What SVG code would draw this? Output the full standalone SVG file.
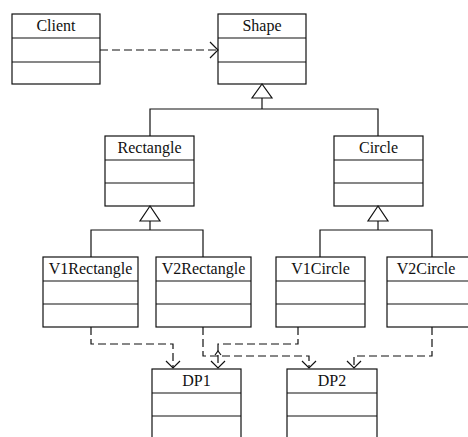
<svg xmlns="http://www.w3.org/2000/svg" width="468" height="437" viewBox="0 0 468 437">
  <style>
    .box { fill: #fff; stroke: #111; stroke-width: 1.2; }
    .sep { stroke: #111; stroke-width: 1.2; }
    .lbl { font-family: "Liberation Serif", "Times New Roman", serif; font-size: 16px; fill: #111; text-anchor: middle; }
    .inh { fill: none; stroke: #111; stroke-width: 1.2; }
    .tri { fill: #fff; stroke: #111; stroke-width: 1.2; stroke-linejoin: miter; }
    .dep { fill: none; stroke: #111; stroke-width: 1.2; stroke-dasharray: 8 4; }
    .head { fill: none; stroke: #111; stroke-width: 1.2; }
  </style>
  <rect width="468" height="437" fill="#fff"/>

  <!-- class boxes: name compartment, attributes, operations -->
  <g id="client">
    <rect class="box" x="12" y="14" width="88" height="70"/>
    <line class="sep" x1="12" y1="38" x2="100" y2="38"/>
    <line class="sep" x1="12" y1="62" x2="100" y2="62"/>
    <text class="lbl" x="56" y="31">Client</text>
  </g>
  <g id="shape">
    <rect class="box" x="218" y="14" width="88" height="70"/>
    <line class="sep" x1="218" y1="38" x2="306" y2="38"/>
    <line class="sep" x1="218" y1="62" x2="306" y2="62"/>
    <text class="lbl" x="262" y="31">Shape</text>
  </g>
  <g id="rectangle">
    <rect class="box" x="105" y="136" width="89" height="70"/>
    <line class="sep" x1="105" y1="160" x2="194" y2="160"/>
    <line class="sep" x1="105" y1="183" x2="194" y2="183"/>
    <text class="lbl" x="149.5" y="153">Rectangle</text>
  </g>
  <g id="circle">
    <rect class="box" x="334" y="136" width="89" height="70"/>
    <line class="sep" x1="334" y1="160" x2="423" y2="160"/>
    <line class="sep" x1="334" y1="183" x2="423" y2="183"/>
    <text class="lbl" x="378.5" y="153">Circle</text>
  </g>
  <g id="v1rectangle">
    <rect class="box" x="43" y="257" width="95" height="70"/>
    <line class="sep" x1="43" y1="281" x2="138" y2="281"/>
    <line class="sep" x1="43" y1="304" x2="138" y2="304"/>
    <text class="lbl" x="90.5" y="274">V1Rectangle</text>
  </g>
  <g id="v2rectangle">
    <rect class="box" x="156" y="257" width="95" height="70"/>
    <line class="sep" x1="156" y1="281" x2="251" y2="281"/>
    <line class="sep" x1="156" y1="304" x2="251" y2="304"/>
    <text class="lbl" x="203.5" y="274">V2Rectangle</text>
  </g>
  <g id="v1circle">
    <rect class="box" x="276" y="257" width="89" height="70"/>
    <line class="sep" x1="276" y1="281" x2="365" y2="281"/>
    <line class="sep" x1="276" y1="304" x2="365" y2="304"/>
    <text class="lbl" x="320.5" y="274">V1Circle</text>
  </g>
  <g id="v2circle">
    <rect class="box" x="387" y="257" width="90" height="70"/>
    <line class="sep" x1="387" y1="281" x2="477" y2="281"/>
    <line class="sep" x1="387" y1="304" x2="477" y2="304"/>
    <text class="lbl" x="426" y="274">V2Circle</text>
  </g>
  <g id="dp1">
    <rect class="box" x="152" y="369" width="89" height="80"/>
    <line class="sep" x1="152" y1="393" x2="241" y2="393"/>
    <line class="sep" x1="152" y1="416" x2="241" y2="416"/>
    <text class="lbl" x="196.5" y="386">DP1</text>
  </g>
  <g id="dp2">
    <rect class="box" x="287" y="369" width="90" height="80"/>
    <line class="sep" x1="287" y1="393" x2="377" y2="393"/>
    <line class="sep" x1="287" y1="416" x2="377" y2="416"/>
    <text class="lbl" x="332" y="386">DP2</text>
  </g>

  <g id="connectors">
    <!-- Client uses Shape -->
    <line class="dep" x1="100" y1="50" x2="217" y2="50"/>
    <polyline class="head" points="210,42 218,50 210,58"/>

    <!-- Rectangle, Circle extend Shape -->
    <polyline class="inh" points="150,136 150,109 378,109 378,136"/>
    <line class="inh" x1="262" y1="98" x2="262" y2="109"/>
    <polygon class="tri" points="262,84 252,98 272,98"/>

    <!-- V1Rectangle, V2Rectangle extend Rectangle -->
    <polyline class="inh" points="91,257 91,230 203,230 203,257"/>
    <line class="inh" x1="150" y1="221" x2="150" y2="230"/>
    <polygon class="tri" points="150,206 140,221 160,221"/>

    <!-- V1Circle, V2Circle extend Circle -->
    <polyline class="inh" points="320,257 320,230 432,230 432,257"/>
    <line class="inh" x1="378" y1="221" x2="378" y2="230"/>
    <polygon class="tri" points="378,206 368,221 388,221"/>

    <!-- implementations use drawing programs -->
    <polyline class="dep" points="91,327 91,344 173,344 173,368"/>
    <polyline class="head" points="166,361 173,368 180,361"/>

    <polyline class="dep" points="298,327 298,344 218,344 218,368"/>
    <polyline class="head" points="211,361 218,368 225,361"/>
    <polyline class="head" points="215,355 218,351 221,355"/>

    <polyline class="dep" points="203,327 203,356 309,356 309,368"/>
    <polyline class="head" points="302,361 309,368 316,361"/>

    <polyline class="dep" points="432,327 432,356 354,356 354,368"/>
    <polyline class="head" points="347,361 354,368 361,361"/>
  </g>
</svg>
